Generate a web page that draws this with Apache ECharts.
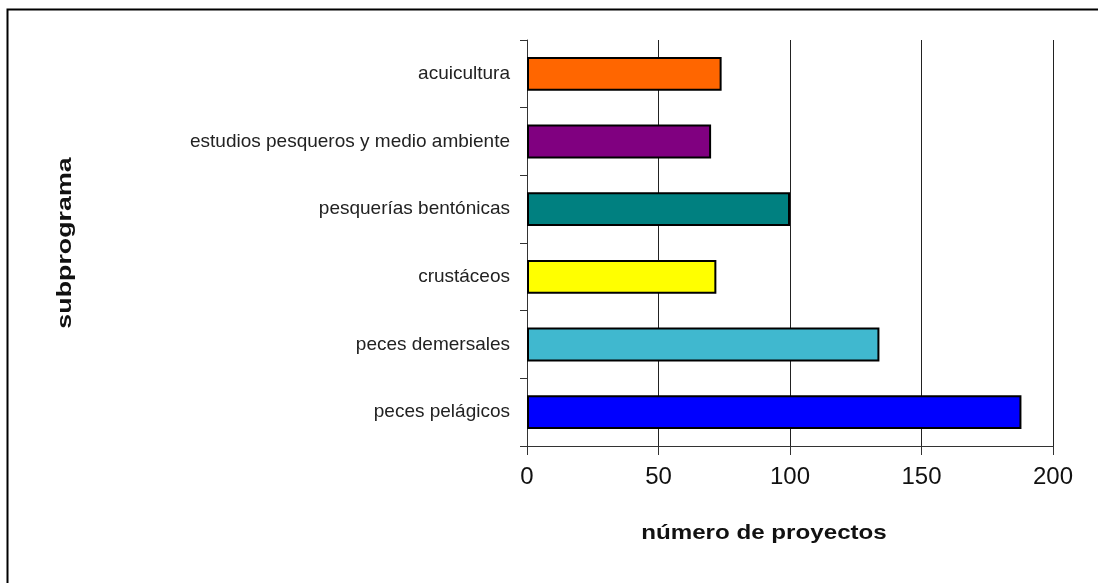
<!DOCTYPE html>
<html>
<head>
<meta charset="utf-8">
<script src="https://cdn.jsdelivr.net/npm/echarts@6/dist/echarts.min.js"></script>
<style>
  html, body { margin: 0; padding: 0; background: #fff; }
  #chart { width: 1098px; height: 583px; }
</style>
</head>
<body>
<div id="chart"></div>
<script>
// Subprogramas (top to bottom) and number of projects in each
const categories = [
  'acuicultura',
  'estudios pesqueros y medio ambiente',
  'pesquerías bentónicas',
  'crustáceos',
  'peces demersales',
  'peces pelágicos'
];
const projectCounts = [74, 70, 100, 72, 134, 188];
const barColors = ['#FF6600', '#800080', '#008080', '#FFFF00', '#40B8CF', '#0000FF'];
const xTicks = { min: 0, max: 200, interval: 50 };

const axisTitleX = 'número de proyectos';
const axisTitleY = 'subprograma';

const chart = echarts.init(document.getElementById('chart'), null, { renderer: 'canvas' });

const font = 'Liberation Sans, Arial, sans-serif';

chart.setOption({
  animation: false,
  backgroundColor: '#fff',
  grid: { left: 527, right: 45, top: 40, bottom: 137, containLabel: false },
  xAxis: {
    type: 'value',
    min: xTicks.min,
    max: xTicks.max,
    interval: xTicks.interval,
    axisLine: { show: true, lineStyle: { color: '#333', width: 1 } },
    axisTick: { show: true, length: 9, lineStyle: { color: '#333' } },
    splitLine: { show: true, lineStyle: { color: '#222', width: 1 } },
    axisLabel: { color: '#111', fontFamily: font, fontSize: 24, margin: 19 }
  },
  yAxis: {
    type: 'category',
    inverse: true,
    data: categories,
    axisLine: { show: true, lineStyle: { color: '#333', width: 1 } },
    axisTick: { show: true, length: 7, inside: false, lineStyle: { color: '#333' } },
    axisLabel: { color: '#222', fontFamily: font, fontSize: 19, margin: 17 }
  },
  series: [{
    type: 'bar',
    data: projectCounts.map((v, i) => ({ value: v, itemStyle: { color: barColors[i] } })),
    barCategoryGap: '50%',
    itemStyle: { borderColor: '#000', borderWidth: 2 }
  }],
  graphic: [
    {
      type: 'rect',
      shape: { x: 7.5, y: 9.5, width: 1200, height: 700 },
      style: { fill: 'none', stroke: '#000', lineWidth: 2 },
      silent: true
    },
    {
      type: 'text',
      x: 764, y: 533,
      scaleX: 1.15,
      style: {
        text: axisTitleX, fill: '#111', font: 'bold 21px ' + font,
        align: 'center', verticalAlign: 'middle'
      }
    },
    {
      type: 'text',
      x: 65, y: 243,
      rotation: Math.PI / 2,
      scaleX: 1.34,
      style: {
        text: axisTitleY, fill: '#111', font: 'bold 20px ' + font,
        align: 'center', verticalAlign: 'middle'
      }
    }
  ]
});
</script>
</body>
</html>
